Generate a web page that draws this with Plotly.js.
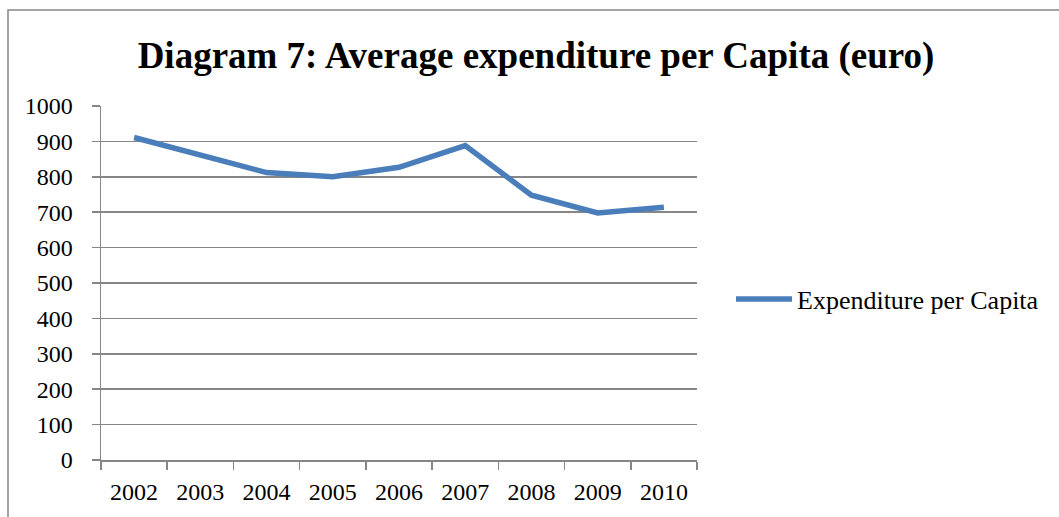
<!DOCTYPE html>
<html>
<head>
<meta charset="utf-8">
<script src="https://cdn.plot.ly/plotly-3.0.1.min.js"></script>
<style>
  html, body { margin: 0; padding: 0; background: #fff; }
  #chart { width: 1059px; height: 517px; }
</style>
</head>
<body>
<div id="chart"></div>
<script>
const years = ['2002','2003','2004','2005','2006','2007','2008','2009','2010'];
const expenditure = [911, 861, 812, 800, 827, 888, 748, 698, 714];
const yTicks = [0,100,200,300,400,500,600,700,800,900,1000];
const seriesName = 'Expenditure per Capita';
const chartTitle = 'Diagram 7: Average expenditure per Capita (euro)';

const W = 1059, H = 517;
const L = 101, R = 697, T = 106, B = 460;
const px = x => (x - L) / (R - L);
const py = y => (B - y) / (B - T);

const serif = 'Liberation Serif, Times New Roman, serif';

const trace = {
  x: years,
  y: expenditure,
  type: 'scatter',
  mode: 'lines',
  name: seriesName,
  line: { color: '#4A7EBB', width: 5.5 }
};

const layout = {
  width: W, height: H,
  margin: { l: L, r: W - R, t: T, b: H - B, pad: 0 },
  paper_bgcolor: '#fff',
  plot_bgcolor: '#fff',
  title: {
    text: '<b>' + chartTitle + '</b>',
    font: { family: serif, size: 37, color: '#000' },
    x: (536) / W, xanchor: 'center',
    y: 1 - 55 / H, yanchor: 'middle'
  },
  xaxis: {
    type: 'category',
    range: [-0.5, 8.5],
    showgrid: false,
    showline: true, linecolor: '#868686', linewidth: 1.5,
    ticks: 'outside', tickson: 'boundaries', ticklen: 8, tickcolor: '#868686', tickwidth: 1.5,
    ticklabelstandoff: 10,
    tickfont: { family: serif, size: 24, color: '#000' },
    fixedrange: true
  },
  yaxis: {
    range: [0, 1000],
    tickvals: yTicks,
    ticktext: yTicks.map(String),
    showgrid: true, gridcolor: '#868686', gridwidth: 1.5,
    showline: true, linecolor: '#868686', linewidth: 1.5,
    zeroline: false,
    ticks: 'outside', ticklen: 8, tickcolor: '#868686', tickwidth: 1.5,
    ticklabelstandoff: 14,
    tickfont: { family: serif, size: 24, color: '#000' },
    fixedrange: true
  },
  showlegend: true,
  legend: {
    x: px(731), xanchor: 'left',
    y: py(299), yanchor: 'middle',
    itemwidth: 56,
    font: { family: serif, size: 26, color: '#000' },
    bgcolor: 'rgba(0,0,0,0)'
  },
  shapes: [{
    type: 'path',
    xref: 'paper', yref: 'paper',
    path: 'M ' + px(8) + ' ' + py(517) + ' L ' + px(8) + ' ' + py(10) + ' L ' + px(1059) + ' ' + py(10),
    line: { color: '#868686', width: 1.5 }
  }]
};

Plotly.newPlot('chart', [trace], layout, { displayModeBar: false, staticPlot: true });
</script>
</body>
</html>
